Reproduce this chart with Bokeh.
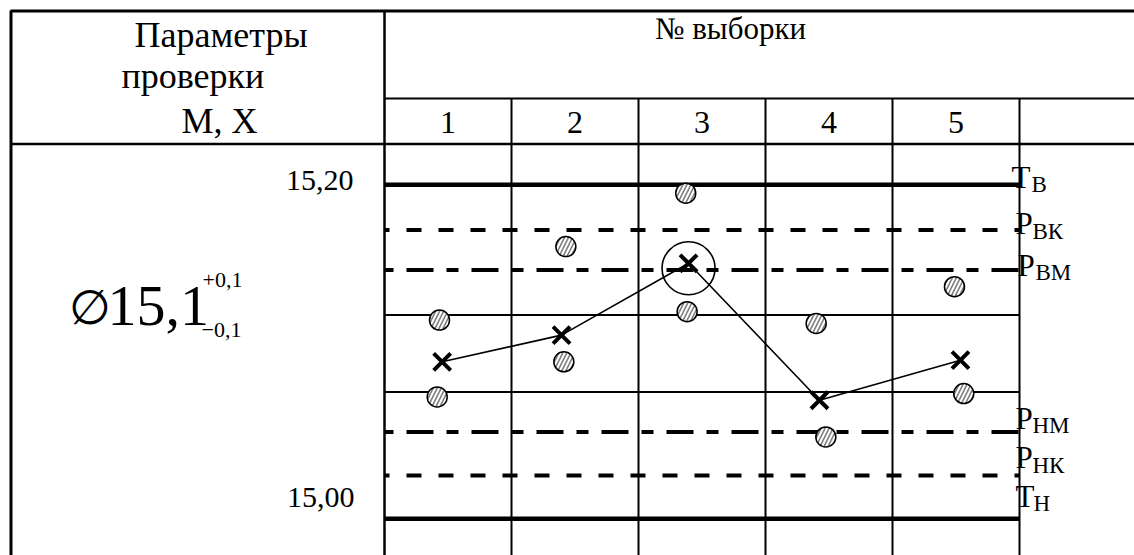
from bokeh.plotting import figure
from bokeh.models import Range1d
from bokeh.core.properties import value
from bokeh.embed import file_html
from bokeh.resources import INLINE

# ---------------- data ----------------
sample_numbers = [1, 2, 3, 4, 5]
sample_labels = ["1", "2", "3", "4", "5"]

# tolerance and control limits, mm
limit_letters = ["Т", "Р", "Р", "Р", "Р", "Т"]
limit_subscripts = ["В", "ВК", "ВМ", "НМ", "НК", "Н"]
limit_values = [15.200, 15.173, 15.149, 15.052, 15.026, 15.000]
tolerance_limits = [15.200, 15.000]      # Тв, Тн
control_limits = [15.173, 15.026]        # Рвк, Рнк
mean_limits = [15.149, 15.052]           # Рвм, Рнм

# inner row dividers of the chart cells, mm
row_dividers = [15.122, 15.076]

# sample means (crosses); x = sample number with the drawn offset inside the column
mean_x = [0.954, 1.894, 2.894, 3.925, 5.035]
mean_y = [15.094, 15.110, 15.153, 15.071, 15.095]

# individual measurements (hatched dots)
meas_x = [0.933, 0.915, 1.928, 1.912, 2.872, 2.883, 3.899, 3.975, 4.988, 5.061]
meas_y = [15.119, 15.073, 15.163, 15.094, 15.195, 15.124, 15.117, 15.049, 15.139, 15.075]

# sample mean that crossed Рвм (circled)
flag_x = [2.894]
flag_y = [15.150]

# ---------------- layout ----------------
W, H = 1134, 555
PX_PER_SAMPLE = 127.0
PX_PER_MM = 1670.0
COL_LEFT_PX = 384.0          # left edge of column 1
TOP_LIMIT_PX = 184.3         # screen row of 15.20
BASELINE_SHIFT = 0.34        # em; text anchor sits this far above the glyph baseline

X0 = 0.5 - COL_LEFT_PX / PX_PER_SAMPLE
X1 = X0 + W / PX_PER_SAMPLE
Y1 = limit_values[0] + TOP_LIMIT_PX / PX_PER_MM
Y0 = Y1 - H / PX_PER_MM


def dx(px):
    return X0 + px / PX_PER_SAMPLE


def dy(py):
    return Y1 - py / PX_PER_MM


def base(py, fs):
    """data y of the anchor that puts the glyph baseline on screen row py"""
    return dy(py - BASELINE_SHIFT * fs)


SERIF = value("Liberation Serif")

p = figure(width=W, height=H, x_range=Range1d(X0, X1), y_range=Range1d(Y0, Y1),
           x_axis_type=None, y_axis_type=None, output_backend="svg",
           toolbar_location=None, min_border=0, outline_line_color=None,
           background_fill_color="white", border_fill_color="white")
p.grid.visible = False

chart_x0 = sample_numbers[0] - 0.5
chart_x1 = sample_numbers[-1] + 0.5

# ---- table frame ----
p.segment(x0=[dx(10)], y0=[dy(10.5)], x1=[X1], y1=[dy(10.5)], line_color="black", line_width=3)
p.segment(x0=[dx(10.5)], y0=[dy(10)], x1=[dx(10.5)], y1=[Y0], line_color="black", line_width=3)
p.segment(x0=[chart_x0], y0=[dy(10)], x1=[chart_x0], y1=[Y0], line_color="black", line_width=2.5)
p.segment(x0=[chart_x0], y0=[dy(98)], x1=[X1], y1=[dy(98)], line_color="black", line_width=2)
p.segment(x0=[dx(10)], y0=[dy(143.5)], x1=[X1], y1=[dy(143.5)], line_color="black", line_width=2.5)
col_edges = [n + 0.5 for n in sample_numbers]
p.segment(x0=col_edges, y0=[dy(98)] * len(col_edges), x1=col_edges, y1=[Y0] * len(col_edges),
          line_color="black", line_width=2)
p.segment(x0=[chart_x0] * len(row_dividers), y0=row_dividers,
          x1=[chart_x1] * len(row_dividers), y1=row_dividers, line_color="black", line_width=2)

# ---- limit lines ----
n = len(tolerance_limits)
p.segment(x0=[chart_x0] * n, y0=tolerance_limits, x1=[chart_x1] * n, y1=tolerance_limits,
          line_color="black", line_width=4.5)
p.segment(x0=[chart_x0] * n, y0=control_limits, x1=[chart_x1] * n, y1=control_limits,
          line_color="black", line_width=4, line_dash="15 17", line_dash_offset=10)
p.segment(x0=[chart_x0] * n, y0=mean_limits, x1=[chart_x1] * n, y1=mean_limits,
          line_color="black", line_width=4, line_dash="27 13 12 13", line_dash_offset=43)

# ---- measurements and means ----
p.scatter(meas_x, meas_y, marker="circle", size=20, fill_color="white",
          line_color="black", line_width=1.5, hatch_pattern="/", hatch_color="#7d7d7d",
          hatch_scale=8, hatch_weight=1.6)
p.line(mean_x, mean_y, line_color="black", line_width=1.6)
p.scatter(mean_x, mean_y, marker="x", size=24, line_color="black", line_width=4)
p.scatter(flag_x, flag_y, marker="circle", size=53, fill_color=None,
          line_color="black", line_width=1.6)

# ---- limit labels ----
LETTER_FS, SUB_FS = 31, 23
letter_offsets = [3, 4.6, 5.7, -3.4, -7, -11.6]
letter_left = [1011, 1015, 1017, 1015, 1015, 1015]
sub_left = [1031, 1032, 1035, 1032, 1032, 1033]
p.text(x=[dx(v) for v in letter_left], y=limit_values,
       y_offset=[o - BASELINE_SHIFT * LETTER_FS for o in letter_offsets],
       text=limit_letters, text_font=SERIF, text_font_size=value(f"{LETTER_FS}px"),
       text_baseline="alphabetic", text_align="left", text_color="black")
p.text(x=[dx(v) for v in sub_left], y=limit_values,
       y_offset=[o + 4.5 - BASELINE_SHIFT * SUB_FS for o in letter_offsets],
       text=limit_subscripts, text_font=SERIF, text_font_size=value(f"{SUB_FS}px"),
       text_baseline="alphabetic", text_align="left", text_color="black")

# ---- scale values on the left ----
p.text(x=[dx(353), dx(354)], y=[base(190, 30), base(506.7, 30)], text=["15,20", "15,00"],
       text_font=SERIF, text_font_size=value("30px"), text_baseline="alphabetic",
       text_align="right", text_color="black")

# ---- dimension with tolerance ----
p.text(x=[dx(89)], y=[base(323, 48)], text=["∅"], text_font=value("DejaVu Serif"),
       text_font_size=value("48px"), text_baseline="alphabetic", text_align="center",
       text_color="black")
p.text(x=[dx(107)], y=[base(325, 58)], text=["15,1"], text_font=SERIF,
       text_font_size=value("58px"), text_baseline="alphabetic", text_align="left",
       text_color="black")
p.text(x=[dx(202), dx(201)], y=[base(286.7, 22), base(336.7, 22)], text=["+0,1", "\u22120,1"],
       text_font=SERIF, text_font_size=value("22px"), text_baseline="alphabetic",
       text_align="left", text_color="black")

# ---- header texts ----
p.text(x=[dx(134), dx(121), dx(181)], y=[base(46.7, 36), base(87.7, 36), base(132.7, 36)],
       text=["Параметры", "проверки", "М, Х"], text_font=SERIF,
       text_font_size=value("36px"), text_baseline="alphabetic", text_align="left",
       text_color="black")
p.text(x=[dx(730)], y=[base(39, 31)], text=["№ выборки"], text_font=SERIF,
       text_font_size=value("31px"), text_baseline="alphabetic", text_align="center",
       text_color="black")
p.text(x=sample_numbers, y=[base(133.3, 32)] * len(sample_numbers),
       text=sample_labels, text_font=SERIF, text_font_size=value("32px"),
       text_baseline="alphabetic", text_align="center", text_color="black")

open("out.html", "w").write(file_html(p, INLINE))
